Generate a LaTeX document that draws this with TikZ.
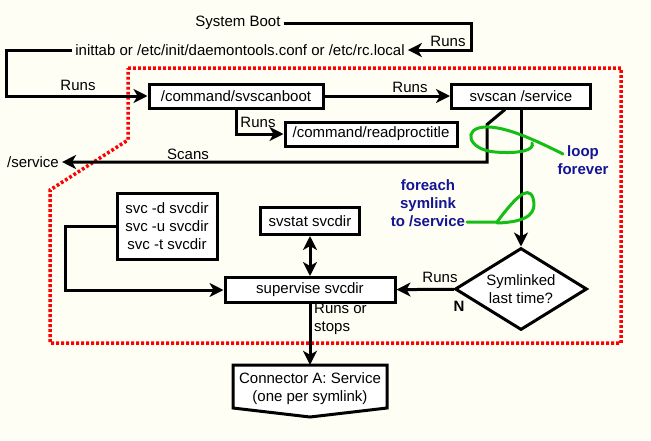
\documentclass[tikz,border=0pt]{standalone}
\usepackage{fontspec}
\setmainfont{Liberation Sans}
\usepackage{xcolor}
\usepackage{tikz}
\usetikzlibrary{arrows.meta,shapes.geometric}
\definecolor{paper}{RGB}{254,254,244}
\definecolor{loopgreen}{RGB}{20,190,20}
\definecolor{notenavy}{RGB}{20,20,150}

\begin{document}
\fontsize{15}{18}\selectfont
\begin{tikzpicture}[x=1pt,y=-1pt,
  box/.style={draw,line width=3pt,fill=white,inner sep=2pt,minimum height=24pt},
  txt/.style={inner sep=3pt},
  lbl/.style={inner sep=0pt},
  conn/.style={line width=3pt,-{Stealth[length=14pt,width=14pt,inset=4pt]}},
  dconn/.style={line width=3pt,{Stealth[length=14pt,width=14pt,inset=4pt]}-{Stealth[length=14pt,width=14pt,inset=4pt]}},
  note/.style={text=notenavy,font=\bfseries,align=center,inner sep=0pt},
  lasso/.style={loopgreen,line width=3pt,line cap=round},
  zone/.style={red,line width=3.5pt,dash pattern=on 2.8pt off 2.2pt}]
  \fill[paper] (0,0) rectangle (651,440);
  \useasboundingbox (0,0) rectangle (651,440);
  % supervised area
  \draw[zone] (128,68) -- (621,68) -- (621,343) -- (50,343) -- (50,190) -- (128,140) -- cycle;

  \node[txt] (boot) at (238,23) {System Boot};
  \node[txt] (init) at (240,50) {inittab or /etc/init/daemontools.conf or /etc/rc.local};
  \node[box,minimum width=174pt] (sboot) at (236,96) {/command/svscanboot};
  \node[box,minimum width=139pt] (svscan) at (521,96) {svscan /service};
  \node[box,minimum width=172pt] (rpt) at (371,134) {/command/readproctitle};
  \node[txt] (srv) at (33,162) {/service};
  \node[box,minimum width=100pt,minimum height=66pt,align=center] (svc) at (167,226)
    {svc -d svcdir\\svc -u svcdir\\svc -t svcdir};
  \node[box,minimum width=99pt,minimum height=27pt] (svstat) at (310,221) {svstat svcdir};
  \node[box,minimum width=170pt,minimum height=25pt] (sup) at (310,290) {supervise svcdir};
  \node[draw,diamond,line width=3pt,fill=white,aspect=1.6,inner sep=0pt,
    minimum width=132pt,minimum height=82pt,align=center] (sym) at (521,289)
    {Symlinked\\last time?};
  % off-page connector
  \draw[line width=3pt,fill=white] (233,365) -- (387,365) -- (387,408) -- (310,417) -- (233,408) -- cycle;
  \node[align=center,inner sep=0pt,minimum width=154pt,minimum height=48pt] (ca) at (310,389)
    {Connector A: Service\\(one per symlink)};

  \draw[conn] (boot.east) -| ([xshift=64pt]init.east) -- (init.east);
  \draw[conn] (init.west) -| ([xshift=-141pt]sboot.west) -- (sboot.west);
  \draw[conn] (sboot) -- (svscan);
  \draw[conn] (sboot.south) |- (rpt);
  \draw[conn] ([xshift=-16pt]svscan.south) -- ++(-18,15) |- (srv);
  \draw[conn] (svscan) -- (sym);
  \draw[conn] (sym) -- (sup);
  \draw[conn] (svc.west) -- ++(-50,0) |- (sup);
  \draw[dconn] (svstat) -- (sup);
  \draw[conn] (sup) -- (ca);

  \node[lbl] (runsA) at (448,41) {Runs};
  \node[lbl] (runsB) at (78,85) {Runs};
  \node[lbl] (runsC) at (410,87) {Runs};
  \node[lbl] (runsD) at (258,122) {Runs};
  \node[lbl] (scans) at (188,154) {Scans};
  \node[lbl] (runsE) at (440,277) {Runs};
  \node[lbl,font=\bfseries] (nope) at (459,306) {N};
  \node[lbl,align=left,anchor=north west] (rors) at (314,303) {Runs or\\stops};

  \node[note] (loopf) at (583,160) {loop\\forever};
  \node[note] (fe) at (428,203) {foreach\\symlink\\to /service};
  \draw[lasso] (563,154) .. controls (535,140) and (505,126) .. (485,127)
    .. controls (462,128) and (468,150) .. (495,152)
    .. controls (520,154) and (535,150) .. (532,143);
  \draw[lasso] (467,222) -- (497,222) .. controls (512,202) and (528,183) .. (533,198)
    .. controls (537,212) and (530,222) .. (497,223);
\end{tikzpicture}
\end{document}
